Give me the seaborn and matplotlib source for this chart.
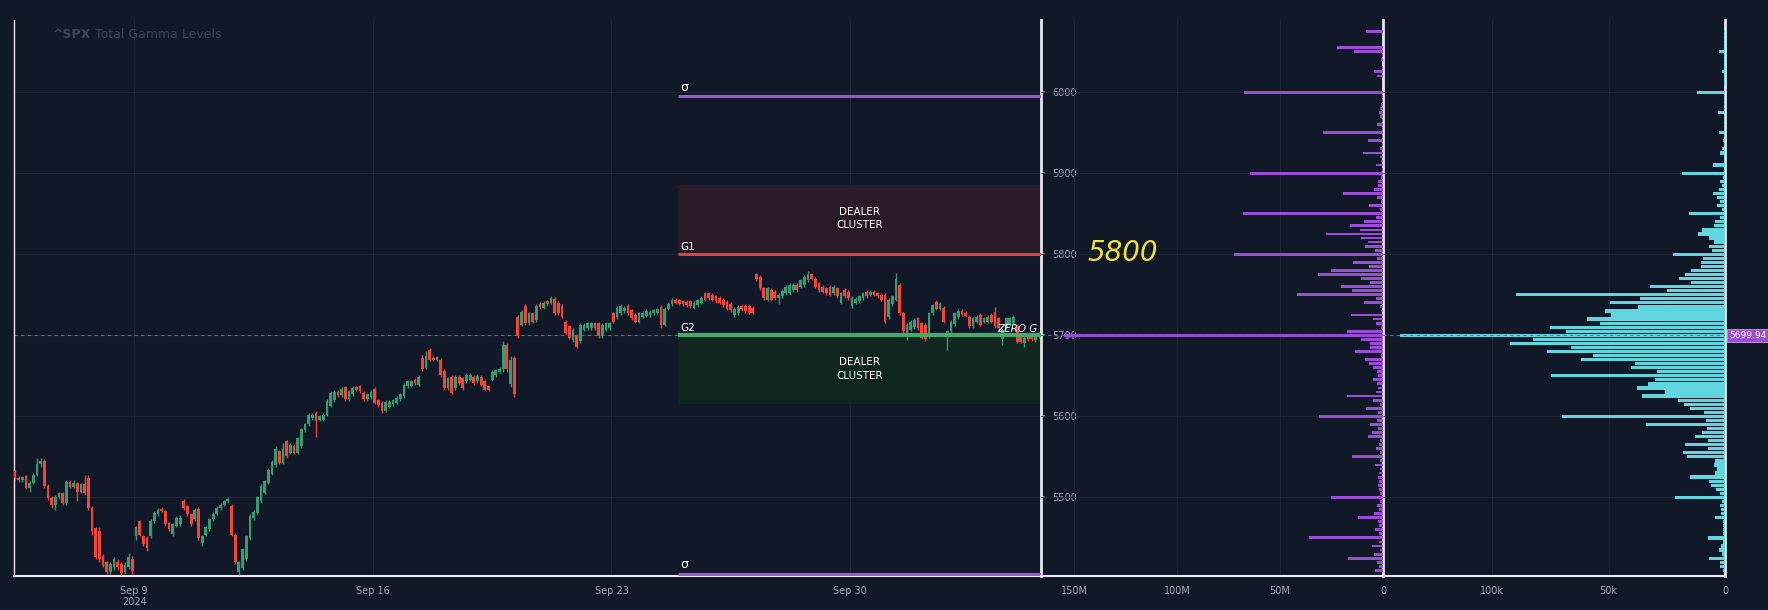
import numpy as np
import pandas as pd
import matplotlib
matplotlib.use('Agg')
import matplotlib.pyplot as plt
import matplotlib.transforms as mtransforms
import seaborn as sns

# ---- price data: 30-min SPX bars (Sep 4 starts at its 7th bar) ----
sessions = ['2024-09-04', '2024-09-05', '2024-09-06', '2024-09-09', '2024-09-10',
            '2024-09-11', '2024-09-12', '2024-09-13', '2024-09-16', '2024-09-17',
            '2024-09-18', '2024-09-19', '2024-09-20', '2024-09-23', '2024-09-24',
            '2024-09-25', '2024-09-26', '2024-09-27', '2024-09-30', '2024-10-01',
            '2024-10-02', '2024-10-03']
first_bar = 6
bars_per_day = 13
anchor_session = '2024-09-09'   # x = 0

opens = [
    5532, 5524, 5521, 5526, 5512, 5518, 5528,
    5541, 5545, 5514, 5499, 5491, 5501, 5505, 5493, 5519, 5513, 5518, 5507, 5516,
    5524, 5487, 5462, 5458, 5428, 5420, 5408, 5414, 5420, 5418, 5408, 5414, 5424,
    5452, 5471, 5452, 5450, 5452, 5471, 5479, 5486, 5483, 5469, 5455, 5465, 5467,
    5495, 5489, 5479, 5473, 5486, 5444, 5454, 5461, 5473, 5480, 5487, 5491, 5495,
    5489, 5454, 5408, 5413, 5424, 5450, 5474, 5481, 5495, 5506, 5518, 5529, 5540,
    5557, 5543, 5569, 5555, 5564, 5555, 5563, 5583, 5590, 5598, 5604, 5596, 5596,
    5602, 5613, 5620, 5630, 5626, 5636, 5621, 5627, 5636, 5637, 5629, 5621, 5624,
    5634, 5620, 5617, 5607, 5612, 5615, 5617, 5621, 5625, 5637, 5638, 5645, 5639,
    5672, 5660, 5682, 5672, 5670, 5670, 5656, 5635, 5649, 5635, 5649, 5647, 5643,
    5645, 5649, 5643, 5649, 5643, 5637, 5645, 5651, 5655, 5659, 5688, 5640, 5672,
    5723, 5713, 5736, 5715, 5727, 5719, 5739, 5734, 5742, 5740, 5745, 5740, 5736,
    5717, 5711, 5694, 5699, 5693, 5707, 5709, 5709, 5715, 5715, 5699, 5707, 5709,
    5727, 5722, 5727, 5730, 5736, 5731, 5725, 5717, 5723, 5724, 5725, 5727, 5728,
    5735, 5713, 5733, 5738, 5744, 5743, 5742, 5741, 5742, 5734, 5737, 5740, 5752,
    5752, 5750, 5748, 5746, 5744, 5741, 5739, 5725, 5727, 5736, 5736, 5736, 5734,
    5775, 5772, 5758, 5744, 5756, 5754, 5746, 5748, 5752, 5752, 5756, 5762, 5760,
    5762, 5768, 5775, 5770, 5764, 5760, 5758, 5760, 5752, 5758, 5740, 5756, 5754,
    5736, 5740, 5742, 5746, 5754, 5750, 5754, 5752, 5750, 5750, 5722, 5738, 5744,
    5762, 5727, 5699, 5707, 5710, 5721, 5715, 5713, 5699, 5727, 5741, 5733, 5734,
    5703, 5705, 5714, 5722, 5730, 5728, 5723, 5711, 5717, 5725, 5717, 5717, 5725,
    5729, 5721, 5695, 5709, 5713, 5715, 5711, 5701, 5691, 5701, 5700, 5694, 5702,
]
highs = [
    5534, 5526, 5526, 5528, 5520, 5530, 5549,
    5549, 5547, 5516, 5502, 5503, 5507, 5507, 5521, 5522, 5522, 5519, 5518, 5527,
    5527, 5489, 5464, 5463, 5430, 5421, 5420, 5426, 5424, 5420, 5420, 5431, 5428,
    5465, 5472, 5454, 5452, 5473, 5483, 5487, 5488, 5485, 5470, 5468, 5477, 5478,
    5498, 5491, 5481, 5487, 5488, 5454, 5465, 5475, 5482, 5489, 5493, 5497, 5500,
    5492, 5456, 5422, 5438, 5454, 5479, 5484, 5502, 5516, 5522, 5536, 5546, 5563,
    5559, 5567, 5571, 5567, 5566, 5575, 5586, 5592, 5604, 5604, 5606, 5602, 5604,
    5621, 5631, 5632, 5632, 5636, 5638, 5633, 5637, 5638, 5639, 5631, 5629, 5632,
    5636, 5622, 5619, 5620, 5620, 5622, 5625, 5629, 5641, 5645, 5645, 5647, 5651,
    5676, 5681, 5684, 5674, 5675, 5672, 5658, 5649, 5651, 5651, 5651, 5649, 5653,
    5653, 5651, 5652, 5651, 5645, 5639, 5657, 5659, 5661, 5693, 5690, 5674, 5674,
    5725, 5731, 5738, 5729, 5729, 5738, 5741, 5742, 5744, 5749, 5747, 5742, 5738,
    5719, 5713, 5709, 5701, 5715, 5715, 5717, 5717, 5717, 5717, 5715, 5717, 5717,
    5729, 5736, 5738, 5736, 5738, 5733, 5727, 5729, 5730, 5732, 5731, 5733, 5734,
    5737, 5735, 5741, 5746, 5746, 5745, 5744, 5743, 5744, 5742, 5745, 5748, 5754,
    5754, 5752, 5750, 5748, 5746, 5743, 5741, 5735, 5737, 5738, 5738, 5738, 5736,
    5777, 5774, 5760, 5760, 5758, 5756, 5752, 5757, 5762, 5764, 5764, 5764, 5770,
    5774, 5779, 5777, 5772, 5766, 5762, 5760, 5762, 5762, 5760, 5754, 5758, 5756,
    5748, 5747, 5750, 5754, 5756, 5756, 5756, 5754, 5752, 5752, 5746, 5750, 5777,
    5764, 5729, 5715, 5719, 5721, 5723, 5717, 5715, 5729, 5739, 5743, 5741, 5736,
    5707, 5719, 5729, 5732, 5732, 5730, 5725, 5723, 5725, 5727, 5723, 5725, 5727,
    5735, 5723, 5709, 5723, 5723, 5725, 5713, 5703, 5699, 5703, 5702, 5702, 5704,
]
lows = [
    5521, 5519, 5519, 5510, 5507, 5516, 5526,
    5538, 5512, 5497, 5487, 5485, 5498, 5490, 5491, 5511, 5511, 5495, 5505, 5503,
    5484, 5454, 5424, 5420, 5414, 5405, 5405, 5411, 5410, 5404, 5406, 5412, 5405,
    5448, 5452, 5440, 5434, 5450, 5469, 5477, 5482, 5465, 5459, 5452, 5463, 5465,
    5485, 5477, 5465, 5471, 5448, 5440, 5452, 5459, 5471, 5478, 5485, 5489, 5493,
    5452, 5418, 5404, 5411, 5422, 5448, 5472, 5479, 5493, 5504, 5516, 5527, 5538,
    5541, 5541, 5549, 5553, 5553, 5553, 5561, 5581, 5588, 5596, 5575, 5594, 5594,
    5600, 5611, 5618, 5624, 5624, 5619, 5619, 5625, 5631, 5629, 5619, 5619, 5622,
    5615, 5612, 5604, 5605, 5610, 5613, 5615, 5619, 5623, 5635, 5636, 5639, 5637,
    5656, 5658, 5668, 5668, 5668, 5649, 5633, 5633, 5627, 5633, 5639, 5633, 5641,
    5643, 5639, 5641, 5637, 5632, 5631, 5643, 5649, 5653, 5655, 5655, 5636, 5624,
    5697, 5711, 5713, 5713, 5715, 5717, 5733, 5732, 5736, 5738, 5725, 5725, 5721,
    5701, 5695, 5692, 5684, 5691, 5705, 5707, 5707, 5707, 5697, 5697, 5705, 5707,
    5715, 5720, 5725, 5728, 5725, 5719, 5715, 5715, 5721, 5722, 5723, 5725, 5726,
    5709, 5711, 5731, 5736, 5738, 5737, 5736, 5735, 5734, 5732, 5735, 5738, 5742,
    5744, 5742, 5740, 5738, 5735, 5731, 5729, 5723, 5725, 5730, 5728, 5726, 5726,
    5767, 5756, 5744, 5742, 5742, 5744, 5738, 5746, 5750, 5750, 5754, 5754, 5758,
    5760, 5766, 5768, 5758, 5754, 5752, 5750, 5748, 5750, 5746, 5739, 5746, 5744,
    5734, 5738, 5740, 5744, 5746, 5748, 5748, 5746, 5742, 5715, 5720, 5736, 5742,
    5725, 5703, 5694, 5705, 5708, 5707, 5695, 5693, 5697, 5725, 5731, 5731, 5715,
    5682, 5703, 5712, 5720, 5724, 5722, 5709, 5709, 5715, 5711, 5715, 5715, 5715,
    5709, 5707, 5688, 5707, 5711, 5713, 5690, 5690, 5686, 5693, 5693, 5692, 5697,
]
closes = [
    5524, 5521, 5525, 5512, 5518, 5528, 5541,
    5545, 5514, 5499, 5491, 5501, 5505, 5493, 5519, 5513, 5518, 5507, 5516, 5506,
    5487, 5458, 5427, 5424, 5416, 5408, 5418, 5424, 5414, 5407, 5417, 5426, 5409,
    5463, 5454, 5442, 5437, 5471, 5481, 5485, 5483, 5467, 5461, 5467, 5475, 5475,
    5487, 5479, 5467, 5485, 5450, 5452, 5463, 5473, 5480, 5487, 5491, 5495, 5498,
    5454, 5420, 5420, 5436, 5452, 5477, 5482, 5500, 5514, 5520, 5534, 5544, 5560,
    5543, 5560, 5551, 5565, 5555, 5573, 5584, 5590, 5602, 5602, 5594, 5600, 5602,
    5619, 5629, 5630, 5626, 5634, 5621, 5631, 5635, 5633, 5631, 5621, 5627, 5630,
    5617, 5614, 5606, 5618, 5618, 5620, 5623, 5627, 5639, 5643, 5643, 5641, 5649,
    5658, 5674, 5670, 5670, 5673, 5651, 5635, 5647, 5629, 5649, 5641, 5635, 5651,
    5651, 5641, 5650, 5639, 5633, 5633, 5655, 5657, 5659, 5688, 5658, 5670, 5627,
    5699, 5729, 5715, 5727, 5717, 5736, 5735, 5740, 5738, 5746, 5727, 5727, 5723,
    5703, 5697, 5707, 5686, 5713, 5713, 5715, 5715, 5709, 5699, 5713, 5715, 5715,
    5717, 5734, 5736, 5734, 5727, 5721, 5717, 5727, 5728, 5730, 5729, 5731, 5732,
    5713, 5733, 5739, 5744, 5740, 5739, 5738, 5737, 5736, 5740, 5743, 5746, 5744,
    5746, 5744, 5742, 5740, 5737, 5733, 5731, 5733, 5735, 5732, 5730, 5728, 5728,
    5769, 5758, 5746, 5758, 5744, 5746, 5750, 5755, 5760, 5762, 5762, 5756, 5768,
    5772, 5776, 5770, 5760, 5756, 5754, 5752, 5750, 5760, 5748, 5752, 5748, 5746,
    5746, 5745, 5748, 5752, 5748, 5754, 5750, 5748, 5744, 5717, 5744, 5748, 5770,
    5727, 5705, 5713, 5717, 5719, 5709, 5697, 5695, 5727, 5737, 5733, 5739, 5717,
    5705, 5717, 5727, 5730, 5726, 5724, 5711, 5721, 5723, 5713, 5721, 5723, 5717,
    5711, 5709, 5707, 5721, 5721, 5723, 5692, 5692, 5697, 5695, 5695, 5700, 5699.94,
]

date_ticks = ['2024-09-09', '2024-09-16', '2024-09-23', '2024-09-30']
date_labels = ['Sep 9\n2024', 'Sep 16', 'Sep 23', 'Sep 30']

# ---- gamma levels ----
last_price = 5699.94
sigma_hi, sigma_lo = 5995, 5406
g1_level, g2_level = 5800, 5700
red_cluster_top, green_cluster_bottom = 5885, 5615
levels_start = ('2024-09-24', 5)   # session, bar

# ---- strike profiles (descending strikes 6075 -> 5410, step 5) ----
strikes = list(range(6075, 5405, -5))
gamma_m = [
    8.4, 0, 0, 0, 22.3, 13.9, 0.3, 0.8, 0, 0.3, 4.2, 2.8, 0, 0, 0, 67.6, 0.3, 0.5, 1.0, 1.6,
    2.0, 1.3, 0.5, 2.8, 0.5, 29.3, 0.5, 7.4, 0.6, 1.6, 9.9, 1.3, 0.8, 3.4, 0.6, 64.4, 0.8, 2.4, 2.2, 4.5,
    19.6, 2.9, 1.1, 6.6, 1.5, 68.1, 3.2, 9.0, 15.9, 11.0, 27.8, 10.5, 7.1, 8.9, 3.7, 72.5, 2.9, 14.7, 6.6, 25.1,
    31.7, 10.5, 6.5, 20.6, 15.0, 41.8, 3.2, 9.0, 1.3, 0.8, 15.4, 4.9, 3.2, 1.0, 17.5, 155, 10.7, 6.1, 6.1, 13.4,
    1.1, 8.6, 7.0, 4.9, 2.9, 2.4, 4.9, 2.9, 2.4, 3.4, 17.5, 4.9, 1.5, 8.3, 2.4, 30.9, 2.9, 6.5, 2.4, 5.3,
    7.3, 1.3, 1.8, 3.2, 1.3, 15.0, 1.3, 4.0, 1.3, 1.8, 2.4, 2.0, 2.4, 1.8, 1.3, 25.1, 1.3, 2.9, 1.8, 4.5,
    12.3, 2.4, 1.8, 3.9, 2.0, 36.1, 2.0, 5.3, 1.3, 4.2, 17.2, 2.9, 2.0, 3.7,
]
oi_k = [
    0.4, 0.4, 0.3, 0.4, 0.3, 2.4, 0.3, 0.5, 0.3, 0.3, 1.1, 0.3, 0.3, 0.3, 0.2, 12.2, 0.3, 0.5, 0.3, 0.4,
    3.2, 0.4, 0.3, 0.5, 0.4, 2.6, 0.4, 0.7, 0.5, 1.3, 2.1, 0.6, 0.5, 5.3, 0.6, 18.3, 0.8, 2.0, 1.4, 2.4,
    5.0, 3.4, 2.1, 3.4, 1.3, 15.6, 2.1, 4.2, 4.6, 10.0, 11.6, 6.7, 4.7, 6.9, 5.7, 22.3, 9.6, 10.5, 10.5, 14.5,
    17.2, 19.6, 14.6, 32.4, 24.9, 90.0, 36.4, 49.4, 37.5, 51.4, 49.0, 59.5, 53.9, 75.4, 68.3, 139.5, 82.7, 92.6, 66.2, 76.4,
    56.6, 61.9, 38.7, 40.4, 29.4, 74.6, 29.9, 33.1, 37.8, 25.8, 35.7, 20.1, 17.6, 14.9, 9.2, 69.9, 8.3, 34.0, 7.6, 10.0,
    12.8, 7.2, 17.3, 7.2, 18.0, 16.5, 4.3, 4.9, 3.3, 4.3, 15.0, 7.0, 6.0, 3.9, 2.1, 21.3, 1.3, 2.0, 1.6, 1.6,
    4.2, 1.0, 1.0, 0.9, 0.8, 7.2, 1.0, 1.6, 2.6, 1.3, 6.7, 2.0, 2.0, 1.0,
]
gamma_ticks = [150, 100, 50, 0]
gamma_labels = ['150M', '100M', '50M', '0']
oi_ticks = [100, 50, 0]
oi_labels = ['100k', '50k', '0']
price_ticks = [5500, 5600, 5700, 5800, 5900, 6000]

# ---- colours ----
BG = '#111827'
GRID = '#222b3a'
TXT = '#a3aab6'
SPINE = '#e6e8ec'
UP, DOWN = '#3d9970', '#f0473b'
PURPLE = '#9b4dd6'
CYAN = '#62d6de'

sns.set_theme(style='darkgrid', rc={
    'axes.facecolor': BG, 'figure.facecolor': BG, 'grid.color': GRID,
    'grid.linewidth': 0.6, 'axes.edgecolor': SPINE,
})
plt.rcParams['font.family'] = ['DejaVu Sans']

# bar positions on a trading-session axis (Sep 9 = 0, one unit per session)
day_pos = {d: i - sessions.index(anchor_session) for i, d in enumerate(sessions)}
xs = []
for d in sessions:
    start = first_bar if d == sessions[0] else 0
    for k in range(start, bars_per_day):
        xs.append(day_pos[d] + (k + 0.5) / bars_per_day)
bars = pd.DataFrame({'x': xs, 'open': opens, 'high': highs, 'low': lows, 'close': closes})

fig = plt.figure(figsize=(17.68, 6.10), dpi=100)
ax = fig.add_axes([13.5 / 1768, 34 / 610, 1027.5 / 1768, 556 / 610])
axm = fig.add_axes([1041 / 1768, 34 / 610, 342 / 1768, 556 / 610])
axr = fig.add_axes([1383 / 1768, 34 / 610, 342 / 1768, 556 / 610])
axm.set_facecolor('none')
axr.set_facecolor('none')

# ---- candles ----
col = np.where(bars.close >= bars.open, UP, DOWN)
ax.vlines(bars.x, bars.low, bars.high, colors=col, lw=1.0, zorder=3)
body = (bars.close - bars.open).abs().clip(lower=0.8)
ax.bar(bars.x, body, bottom=np.minimum(bars.open, bars.close),
       width=0.75 / bars_per_day, color=col, lw=0, zorder=4)

# ---- gamma levels ----
x0 = day_pos[levels_start[0]] + levels_start[1] / bars_per_day
x1 = day_pos[sessions[-1]] + 1
xmid = (x0 + x1) / 2
ax.axhline(last_price, color='#7e58bb', lw=0.8, ls=(0, (3, 3)), zorder=2)
ax.fill_between([x0, x1], g1_level, red_cluster_top, color='#2b1a27', lw=0, zorder=1)
ax.fill_between([x0, x1], green_cluster_bottom, g2_level, color='#10261f', lw=0, zorder=1)
ax.hlines(g1_level, x0, x1, color='#d9443f', lw=2.2, zorder=5)
ax.hlines(g2_level, x0, x1, color='#4aa868', lw=3.0, zorder=5)
ax.hlines([sigma_hi, sigma_lo], x0, x1, color='#9b59d6', lw=2.2, zorder=5)

lab = dict(color='white', fontsize=7.5, zorder=6)
ax.text(x0 + 0.05, sigma_hi + 3, 'σ', ha='left', va='bottom', **dict(lab, fontsize=9))
ax.text(x0 + 0.05, sigma_lo + 3, 'σ', ha='left', va='bottom', **dict(lab, fontsize=9))
ax.text(x0 + 0.05, g1_level + 3, 'G1', ha='left', va='bottom', **lab)
ax.text(x0 + 0.05, g2_level + 3, 'G2', ha='left', va='bottom', **lab)
ax.text(xmid, (g1_level + red_cluster_top) / 2 + 2, 'DEALER\nCLUSTER', ha='center',
        va='center', linespacing=1.4, **lab)
ax.text(xmid, (green_cluster_bottom + g2_level) / 2 + 1, 'DEALER\nCLUSTER', ha='center',
        va='center', linespacing=1.4, **lab)
ax.text(x1 - 0.08, g2_level + 2, 'ZERO G', ha='right', va='bottom', style='italic', **lab)

# ---- strike profiles ----
gdf = pd.DataFrame({'strike': strikes, 'gamma': gamma_m, 'oi': oi_k})
sns.barplot(data=gdf, x='gamma', y='strike', orient='y', native_scale=True, color=PURPLE,
            saturation=1, width=0.7, errorbar=None, linewidth=0, ax=axm, zorder=3)
sns.barplot(data=gdf, x='oi', y='strike', orient='y', native_scale=True, color=CYAN,
            saturation=1, width=0.8, errorbar=None, linewidth=0, ax=axr, zorder=3)
for a in (axm, axr):
    a.axhline(last_price, color='#7e58bb', lw=0.8, ls=(0, (3, 3)), zorder=4)
axm.text(126.5, 5801, '5800', color='#f2e23a', fontsize=20, style='italic',
         ha='center', va='center', zorder=6)
axr.text(1.012, last_price, f'{last_price:.2f}', color='white', fontsize=6.5,
         ha='left', va='center',
         transform=mtransforms.blended_transform_factory(axr.transAxes, axr.transData),
         bbox=dict(boxstyle='square,pad=0.25', fc='#9b4fd0', ec='#c9a0f0', lw=0.6), zorder=7)

# ---- axes styling ----
for a in (ax, axm, axr):
    a.set_ylim(5403, 6089)
    a.set_yticks(price_ticks)
    a.set(xlabel='', ylabel='')
    a.grid(True, color=GRID, lw=0.6)
    a.set_axisbelow(True)
    for s in a.spines.values():
        s.set_visible(False)
    a.spines['bottom'].set_visible(True)
    a.spines['bottom'].set_color(SPINE)
    a.spines['bottom'].set_linewidth(1.5)
    a.spines['right'].set_visible(True)
    a.spines['right'].set_color(SPINE)
    a.spines['right'].set_linewidth(2)
    a.tick_params(axis='x', length=3, color='#3a4455', pad=4, labelsize=7, labelcolor=TXT)

ax.spines['left'].set_visible(True)
ax.spines['left'].set_color(SPINE)
ax.spines['left'].set_linewidth(1)
ax.set_xlim(day_pos[sessions[0]] + 0.47, x1)
ax.set_xticks([day_pos[d] for d in date_ticks])
ax.set_xticklabels(date_labels)
ax.yaxis.set_ticks_position('right')
ax.tick_params(axis='y', which='both', right=True, left=False, labelright=True,
               labelleft=False, length=3, pad=5, color='#8a93a3', labelsize=7, labelcolor=TXT)

axm.set_xlim(166, 0)
axm.set_xticks(gamma_ticks)
axm.set_xticklabels(gamma_labels)
axr.set_xlim(147, 0)
axr.set_xticks(oi_ticks)
axr.set_xticklabels(oi_labels)
for a in (axm, axr):
    a.tick_params(axis='y', length=0, labelleft=False, labelright=False)

# ---- title ----
t1 = fig.text(53 / 1768, 1 - 35 / 610, '^SPX', color='#3e4757', fontsize=9,
              fontweight='bold', ha='left', va='center')
ax.annotate(' Total Gamma Levels', xy=(1, 0.5), xycoords=t1, color='#3e4757', fontsize=9,
            ha='left', va='center', annotation_clip=False)

fig.savefig('out.png', dpi=100, facecolor=BG)
